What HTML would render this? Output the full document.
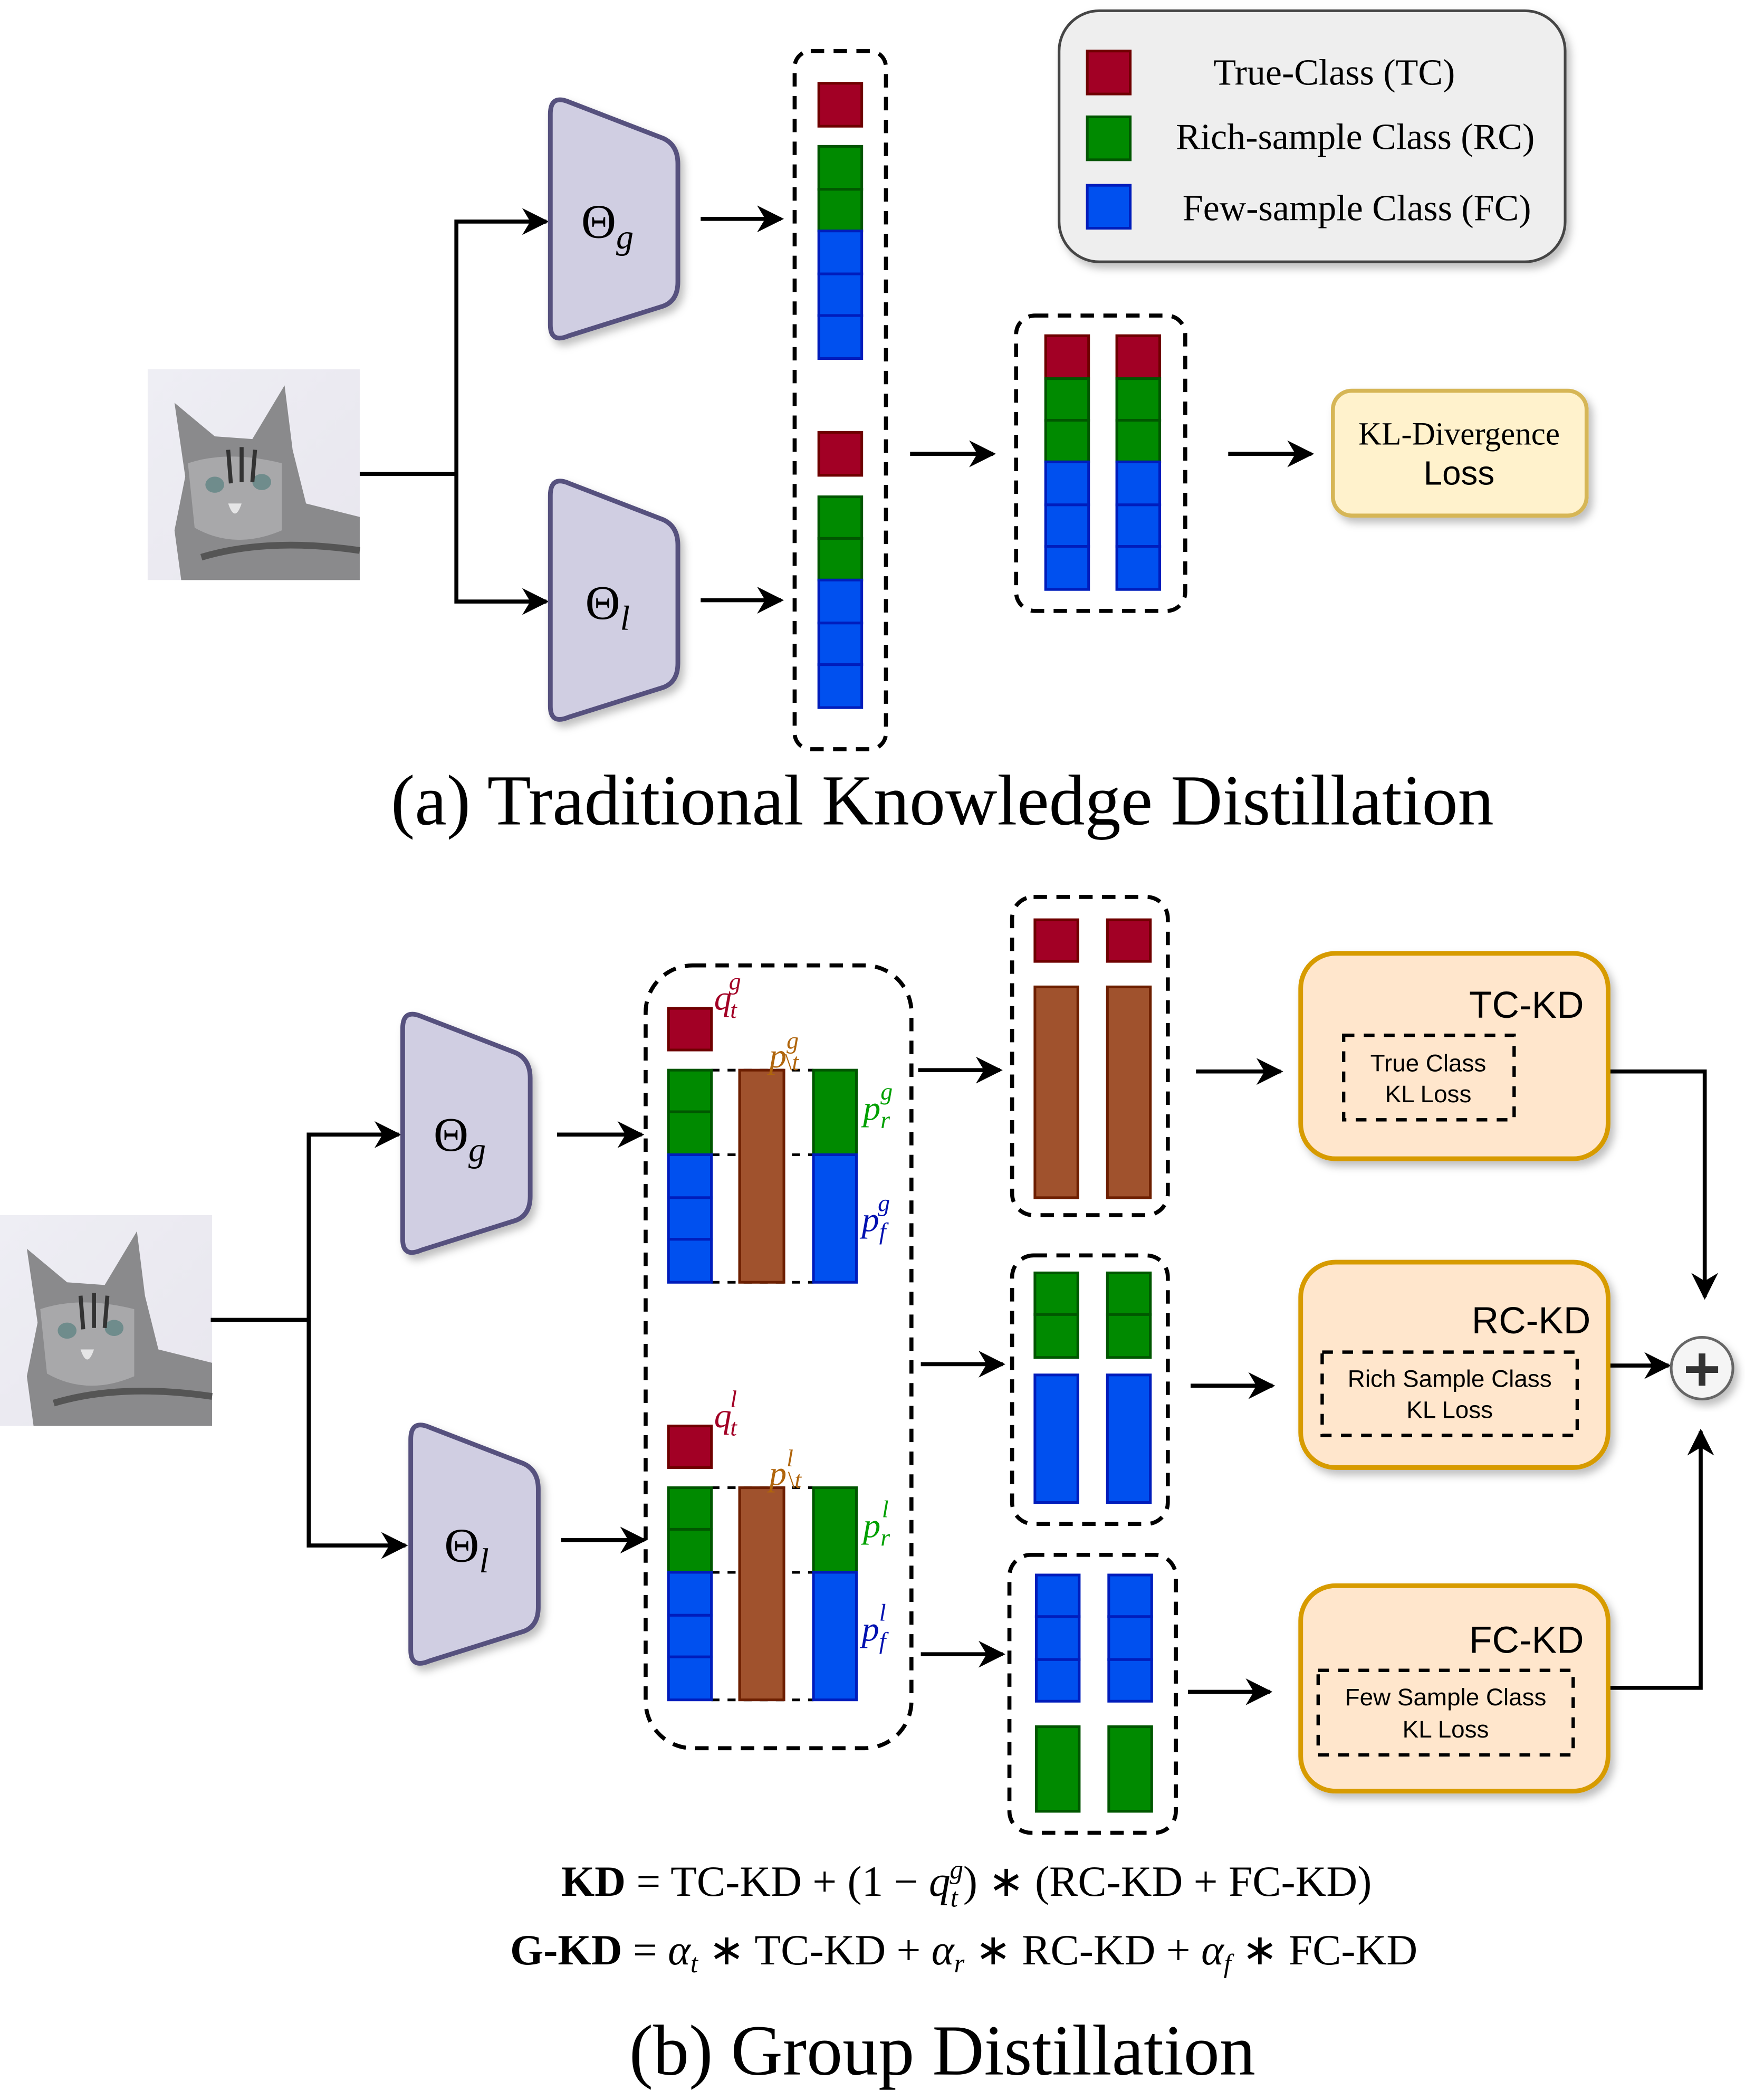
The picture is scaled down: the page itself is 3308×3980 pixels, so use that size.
<!DOCTYPE html>
<html><head><meta charset="utf-8"><style>
html,body{margin:0;padding:0;background:#fff;}
svg{display:block;}
.serif{font-family:"Liberation Serif",serif;}
.sans{font-family:"Liberation Sans",sans-serif;}
</style></head><body>
<svg width="3308" height="3980" viewBox="0 0 1300 1564" preserveAspectRatio="none" xmlns="http://www.w3.org/2000/svg">
<defs>
<marker id="a2" viewBox="0 0 10 10" refX="9" refY="5" markerWidth="20" markerHeight="20" orient="auto" markerUnits="userSpaceOnUse">
<path d="M0,0 L10,5 L0,10 L3,5 Z" fill="#000"/></marker>
<filter id="sh" x="-10%" y="-10%" width="130%" height="130%"><feDropShadow dx="3" dy="4" stdDeviation="3" flood-color="#000" flood-opacity="0.25"/></filter>
<linearGradient id="cat" x1="0" y1="0" x2="1" y2="1"><stop offset="0" stop-color="#eeeef4"/><stop offset="1" stop-color="#e8e6ee"/></linearGradient>
<g id="catimg">
<rect x="0" y="0" width="158" height="157" fill="url(#cat)"/>
<path d="M20,25 L50,50 L78,52 L102,12 L108,60 L118,100 L158,110 L158,157 L25,157 L20,120 L28,80 Z" fill="#8a8a8c"/>
<path d="M30,70 Q60,60 100,70 L100,120 Q65,135 35,118 Z" fill="#a8a8aa"/>
<path d="M60,100 Q65,115 70,100" fill="#fff" opacity="0.7"/>
<ellipse cx="50" cy="86" rx="7" ry="6" fill="#6f8c8c"/><ellipse cx="85" cy="84" rx="7" ry="6" fill="#6f8c8c"/>
<path d="M60,60 L62,85 M70,58 L70,84 M80,60 L78,84" stroke="#333" stroke-width="3"/>
<path d="M40,140 Q90,125 158,135" stroke="#555" stroke-width="5" fill="none"/>
</g>
</defs>

<!-- ===== (a) ===== -->
<use href="#catimg" x="110" y="275"/>
<g stroke="#000" stroke-width="3" fill="none">
<path d="M268,353 H340 V165 H407" marker-end="url(#a2)"/>
<path d="M340,353 V448 H407" marker-end="url(#a2)"/>
<path d="M522,163 H582" marker-end="url(#a2)"/>
<path d="M522,447 H582" marker-end="url(#a2)"/>
<path d="M678,338 H740" marker-end="url(#a2)"/>
<path d="M915,338 H977" marker-end="url(#a2)"/>
</g>
<g filter="url(#sh)" fill="#d0cee2" stroke="#56517e" stroke-width="3.5">
<path d="M410,85 Q410,70 424,76 L494,103 Q505,108 505,122 L505,210 Q505,224 494,228 L424,250 Q410,256 410,242 Z"/>
<path d="M410,369 Q410,354 424,360 L494,387 Q505,392 505,406 L505,494 Q505,508 494,512 L424,534 Q410,540 410,526 Z"/>
</g>
<text x="433" y="177" class="serif" font-size="36">Θ<tspan font-style="italic" font-size="26" dy="8">g</tspan></text>
<text x="436" y="461" class="serif" font-size="36">Θ<tspan font-style="italic" font-size="26" dy="8">l</tspan></text>

<rect x="592" y="38" width="68" height="520" rx="12" fill="none" stroke="#000" stroke-width="3" stroke-dasharray="10,7"/>
<g stroke-width="2">
<rect x="610" y="62" width="32" height="32" fill="#a20025" stroke="#6f0000"/>
<rect x="610" y="109" width="32" height="32" fill="#008a00" stroke="#005700"/>
<rect x="610" y="141" width="32" height="31" fill="#008a00" stroke="#005700"/>
<rect x="610" y="172" width="32" height="32" fill="#0050ef" stroke="#001dbc"/>
<rect x="610" y="204" width="32" height="31" fill="#0050ef" stroke="#001dbc"/>
<rect x="610" y="235" width="32" height="32" fill="#0050ef" stroke="#001dbc"/>
<rect x="610" y="322" width="32" height="32" fill="#a20025" stroke="#6f0000"/>
<rect x="610" y="370" width="32" height="31" fill="#008a00" stroke="#005700"/>
<rect x="610" y="401" width="32" height="31" fill="#008a00" stroke="#005700"/>
<rect x="610" y="432" width="32" height="32" fill="#0050ef" stroke="#001dbc"/>
<rect x="610" y="464" width="32" height="31" fill="#0050ef" stroke="#001dbc"/>
<rect x="610" y="495" width="32" height="32" fill="#0050ef" stroke="#001dbc"/>
</g>

<rect x="757" y="235" width="126" height="220" rx="14" fill="none" stroke="#000" stroke-width="3" stroke-dasharray="10,7"/>
<g stroke-width="2">
<rect x="779" y="250" width="32" height="32" fill="#a20025" stroke="#6f0000"/>
<rect x="779" y="282" width="32" height="31" fill="#008a00" stroke="#005700"/>
<rect x="779" y="313" width="32" height="31" fill="#008a00" stroke="#005700"/>
<rect x="779" y="344" width="32" height="32" fill="#0050ef" stroke="#001dbc"/>
<rect x="779" y="376" width="32" height="31" fill="#0050ef" stroke="#001dbc"/>
<rect x="779" y="407" width="32" height="32" fill="#0050ef" stroke="#001dbc"/>
<rect x="832" y="250" width="32" height="32" fill="#a20025" stroke="#6f0000"/>
<rect x="832" y="282" width="32" height="31" fill="#008a00" stroke="#005700"/>
<rect x="832" y="313" width="32" height="31" fill="#008a00" stroke="#005700"/>
<rect x="832" y="344" width="32" height="32" fill="#0050ef" stroke="#001dbc"/>
<rect x="832" y="376" width="32" height="31" fill="#0050ef" stroke="#001dbc"/>
<rect x="832" y="407" width="32" height="32" fill="#0050ef" stroke="#001dbc"/>
</g>

<rect x="993" y="291" width="189" height="93" rx="14" fill="#fff2cc" stroke="#d6b656" stroke-width="3" filter="url(#sh)"/>
<text x="1087" y="331" class="serif" font-size="24" text-anchor="middle">KL-Divergence</text>
<text x="1087" y="361" class="sans" font-size="25" text-anchor="middle">Loss</text>

<rect x="789" y="8" width="377" height="187" rx="30" fill="#eeeeee" stroke="#444" stroke-width="2" filter="url(#sh)"/>
<g stroke-width="2">
<rect x="810" y="38" width="32" height="32" fill="#a20025" stroke="#6f0000"/>
<rect x="810" y="87" width="32" height="32" fill="#008a00" stroke="#005700"/>
<rect x="810" y="138" width="32" height="32" fill="#0050ef" stroke="#001dbc"/>
</g>
<g class="serif" font-size="27.5">
<text x="904" y="63">True-Class (TC)</text>
<text x="876" y="111">Rich-sample Class (RC)</text>
<text x="881" y="164">Few-sample Class (FC)</text>
</g>
<text x="702" y="614" class="serif" font-size="53.5" text-anchor="middle">(a) Traditional Knowledge Distillation</text>

<!-- ===== (b) ===== -->
<use href="#catimg" x="0" y="905"/>
<g stroke="#000" stroke-width="3" fill="none">
<path d="M157,983 H230 V845 H297" marker-end="url(#a2)"/>
<path d="M230,983 V1151 H302" marker-end="url(#a2)"/>
<path d="M415,845 H478" marker-end="url(#a2)"/>
<path d="M418,1147 H480" marker-end="url(#a2)"/>
<path d="M684,797 H745" marker-end="url(#a2)"/>
<path d="M686,1016 H747" marker-end="url(#a2)"/>
<path d="M686,1232 H747" marker-end="url(#a2)"/>
<path d="M891,798 H954" marker-end="url(#a2)"/>
<path d="M887,1032 H948" marker-end="url(#a2)"/>
<path d="M885,1260 H946" marker-end="url(#a2)"/>
<path d="M1198,798 H1270 V966" marker-end="url(#a2)"/>
<path d="M1198,1017 H1243" marker-end="url(#a2)"/>
<path d="M1198,1257 H1267 V1066" marker-end="url(#a2)"/>
</g>
<g filter="url(#sh)" fill="#d0cee2" stroke="#56517e" stroke-width="3.5">
<path d="M300,766 Q300,751 314,757 L384,784 Q395,789 395,803 L395,891 Q395,905 384,909 L314,931 Q300,937 300,923 Z"/>
<path d="M306,1072 Q306,1057 320,1063 L390,1090 Q401,1095 401,1109 L401,1197 Q401,1211 390,1215 L320,1237 Q306,1243 306,1229 Z"/>
</g>
<text x="323" y="857" class="serif" font-size="36">Θ<tspan font-style="italic" font-size="26" dy="8">g</tspan></text>
<text x="331" y="1163" class="serif" font-size="36">Θ<tspan font-style="italic" font-size="26" dy="8">l</tspan></text>

<rect x="481" y="719" width="198" height="583" rx="35" fill="none" stroke="#000" stroke-width="3" stroke-dasharray="10,7"/>

<g stroke="#000" stroke-width="2" stroke-dasharray="6,6">
<path d="M530,797 H606 M530,860 H606 M530,955 H606"/>
<path d="M530,1108 H606 M530,1171 H606 M530,1266 H606"/>
</g>
<g stroke-width="2">
<rect x="498" y="751" width="32" height="31" fill="#a20025" stroke="#6f0000"/>
<rect x="498" y="797" width="32" height="31" fill="#008a00" stroke="#005700"/>
<rect x="498" y="828" width="32" height="32" fill="#008a00" stroke="#005700"/>
<rect x="498" y="860" width="32" height="32" fill="#0050ef" stroke="#001dbc"/>
<rect x="498" y="892" width="32" height="31" fill="#0050ef" stroke="#001dbc"/>
<rect x="498" y="923" width="32" height="32" fill="#0050ef" stroke="#001dbc"/>
<rect x="551" y="797" width="33" height="158" fill="#a0522d" stroke="#6d1f00"/>
<rect x="606" y="797" width="32" height="63" fill="#008a00" stroke="#005700"/>
<rect x="606" y="860" width="32" height="95" fill="#0050ef" stroke="#001dbc"/>

<rect x="498" y="1062" width="32" height="31" fill="#a20025" stroke="#6f0000"/>
<rect x="498" y="1108" width="32" height="31" fill="#008a00" stroke="#005700"/>
<rect x="498" y="1139" width="32" height="32" fill="#008a00" stroke="#005700"/>
<rect x="498" y="1171" width="32" height="32" fill="#0050ef" stroke="#001dbc"/>
<rect x="498" y="1203" width="32" height="31" fill="#0050ef" stroke="#001dbc"/>
<rect x="498" y="1234" width="32" height="32" fill="#0050ef" stroke="#001dbc"/>
<rect x="551" y="1108" width="33" height="158" fill="#a0522d" stroke="#6d1f00"/>
<rect x="606" y="1108" width="32" height="63" fill="#008a00" stroke="#005700"/>
<rect x="606" y="1171" width="32" height="95" fill="#0050ef" stroke="#001dbc"/>
</g>
<g class="serif" font-style="italic" font-size="26">
<text x="532" y="752" fill="#a20025">q<tspan font-size="18" dy="6" dx="-1">t</tspan><tspan font-size="18" dy="-21" dx="-6">g</tspan></text>
<text x="573" y="795" fill="#b0650c">p<tspan font-size="18" dy="-14">g</tspan><tspan font-size="18" dy="16" dx="-10" font-style="normal">\</tspan><tspan font-size="18">t</tspan></text>
<text x="643" y="834" fill="#00a000">p<tspan font-size="18" dy="6">r</tspan><tspan font-size="18" dy="-21" dx="-7">g</tspan></text>
<text x="642" y="917" fill="#0010b0">p<tspan font-size="18" dy="6">f</tspan><tspan font-size="18" dy="-21" dx="-6">g</tspan></text>
<text x="532" y="1063" fill="#a20025">q<tspan font-size="18" dy="6" dx="-1">t</tspan><tspan font-size="18" dy="-21" dx="-5">l</tspan></text>
<text x="573" y="1106" fill="#b0650c">p<tspan font-size="18" dy="-14">l</tspan><tspan font-size="18" dy="16" dx="-4" font-style="normal">\</tspan><tspan font-size="18">t</tspan></text>
<text x="643" y="1145" fill="#00a000">p<tspan font-size="18" dy="6">r</tspan><tspan font-size="18" dy="-21" dx="-6">l</tspan></text>
<text x="642" y="1222" fill="#0010b0">p<tspan font-size="18" dy="6">f</tspan><tspan font-size="18" dy="-21" dx="-5">l</tspan></text>
</g>

<g fill="none" stroke="#000" stroke-width="3" stroke-dasharray="10,7">
<rect x="754" y="668" width="116" height="237" rx="16"/>
<rect x="754" y="935" width="116" height="200" rx="16"/>
<rect x="752" y="1158" width="124" height="207" rx="16"/>
</g>
<g stroke-width="2">
<rect x="771" y="685" width="32" height="31" fill="#a20025" stroke="#6f0000"/>
<rect x="825" y="685" width="32" height="31" fill="#a20025" stroke="#6f0000"/>
<rect x="771" y="735" width="32" height="157" fill="#a0522d" stroke="#6d1f00"/>
<rect x="825" y="735" width="32" height="157" fill="#a0522d" stroke="#6d1f00"/>

<rect x="771" y="948" width="32" height="31" fill="#008a00" stroke="#005700"/>
<rect x="771" y="979" width="32" height="32" fill="#008a00" stroke="#005700"/>
<rect x="825" y="948" width="32" height="31" fill="#008a00" stroke="#005700"/>
<rect x="825" y="979" width="32" height="32" fill="#008a00" stroke="#005700"/>
<rect x="771" y="1024" width="32" height="95" fill="#0050ef" stroke="#001dbc"/>
<rect x="825" y="1024" width="32" height="95" fill="#0050ef" stroke="#001dbc"/>

<rect x="772" y="1173" width="32" height="31" fill="#0050ef" stroke="#001dbc"/>
<rect x="772" y="1204" width="32" height="32" fill="#0050ef" stroke="#001dbc"/>
<rect x="772" y="1236" width="32" height="31" fill="#0050ef" stroke="#001dbc"/>
<rect x="826" y="1173" width="32" height="31" fill="#0050ef" stroke="#001dbc"/>
<rect x="826" y="1204" width="32" height="32" fill="#0050ef" stroke="#001dbc"/>
<rect x="826" y="1236" width="32" height="31" fill="#0050ef" stroke="#001dbc"/>
<rect x="772" y="1286" width="32" height="63" fill="#008a00" stroke="#005700"/>
<rect x="826" y="1286" width="32" height="63" fill="#008a00" stroke="#005700"/>
</g>

<g fill="#ffe6cc" stroke="#d79b00" stroke-width="3.5" filter="url(#sh)">
<rect x="969" y="710" width="229" height="153" rx="26"/>
<rect x="969" y="940" width="229" height="153" rx="26"/>
<rect x="969" y="1181" width="229" height="153" rx="26"/>
</g>
<g fill="none" stroke="#000" stroke-width="2.5" stroke-dasharray="8,7">
<rect x="1001" y="771" width="127" height="63"/>
<rect x="985" y="1007" width="190" height="62"/>
<rect x="982" y="1244" width="190" height="63"/>
</g>
<g class="sans" fill="#000">
<text x="1180" y="758" font-size="28" text-anchor="end">TC-KD</text>
<text x="1185" y="993" font-size="28" text-anchor="end">RC-KD</text>
<text x="1180" y="1231" font-size="28" text-anchor="end">FC-KD</text>
<g font-size="18" text-anchor="middle">
<text x="1064" y="798">True Class</text><text x="1064" y="821">KL Loss</text>
<text x="1080" y="1033">Rich Sample Class</text><text x="1080" y="1056">KL Loss</text>
<text x="1077" y="1270">Few Sample Class</text><text x="1077" y="1294">KL Loss</text>
</g>
</g>
<circle cx="1268" cy="1019" r="23" fill="#f5f5f5" stroke="#666" stroke-width="2" filter="url(#sh)"/>
<path d="M1256,1020 H1280 M1268,1008 V1032" stroke="#333" stroke-width="5"/>

<g class="serif" font-size="32">
<text x="720" y="1412" text-anchor="middle"><tspan font-weight="bold">KD</tspan> = TC-KD + (1 − <tspan font-style="italic">q</tspan><tspan font-style="italic" font-size="20" dy="8">t</tspan><tspan font-style="italic" font-size="20" dy="-21" dx="-6">g</tspan><tspan dy="13">) ∗ (RC-KD + FC-KD)</tspan></text>
<text x="718" y="1463" text-anchor="middle"><tspan font-weight="bold">G-KD</tspan> = <tspan font-style="italic">α</tspan><tspan font-style="italic" font-size="20" dy="6">t</tspan><tspan dy="-6"> ∗ TC-KD + </tspan><tspan font-style="italic">α</tspan><tspan font-style="italic" font-size="20" dy="6">r</tspan><tspan dy="-6"> ∗ RC-KD + </tspan><tspan font-style="italic">α</tspan><tspan font-style="italic" font-size="20" dy="6">f</tspan><tspan dy="-6"> ∗ FC-KD</tspan></text>
</g>
<text x="702" y="1545" class="serif" font-size="53.5" text-anchor="middle">(b) Group Distillation</text>
</svg>
</body></html>
